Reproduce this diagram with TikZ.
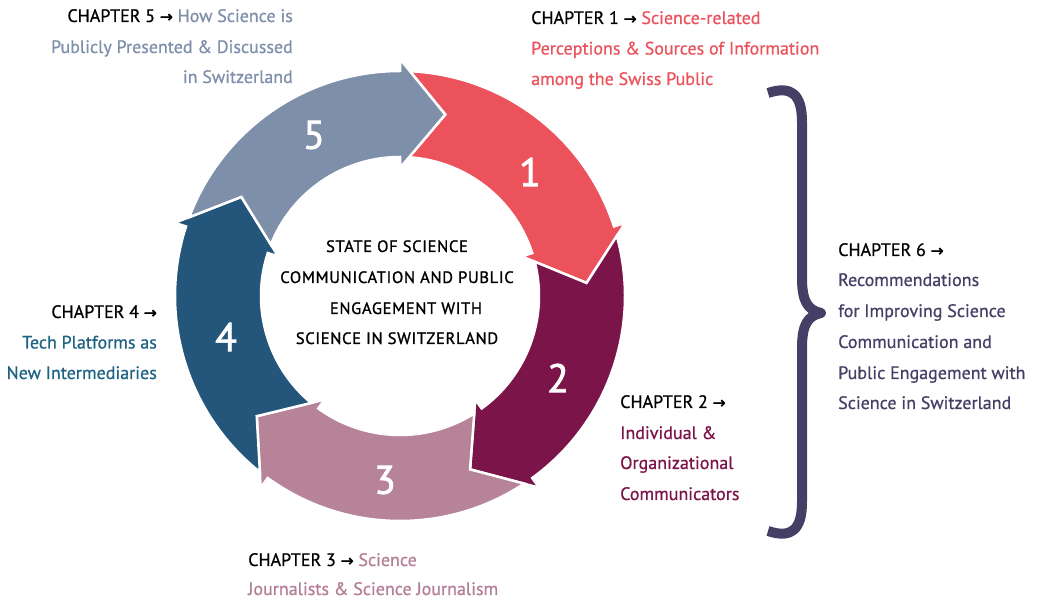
\documentclass[tikz,border=0pt]{standalone}
\usepackage{fontspec}
\setmainfont[FakeBold=0.7]{PT Sans}
\newfontfamily\arrfont[FakeBold=2.5]{DejaVu Sans}
\newfontfamily\ctrfont[LetterSpace=4,FakeBold=1.2]{PT Sans}
\newfontfamily\numfont[FakeBold=1.8]{PT Sans}
\usetikzlibrary{calc}
\definecolor{cOne}{HTML}{EB525C}
\definecolor{cTwo}{HTML}{7B1449}
\definecolor{cThree}{HTML}{B68398}
\definecolor{cFour}{HTML}{23567A}
\definecolor{cFive}{HTML}{7E8FAA}
\definecolor{tFour}{HTML}{1E6383}
\definecolor{tThree}{HTML}{B47E96}
\definecolor{cSix}{HTML}{453F66}
\newcommand\ringarrow[2]{%
  \pgfmathsetmacro\hb{#1}%
  \pgfmathsetmacro\htip{#1-14}%
  \pgfmathsetmacro\tlo{#1+72-2.5}%
  \pgfmathsetmacro\tli{#1+72-3.7}%
  \pgfmathsetmacro\tn{#1+72-14}%
  \fill[#2, draw=white, line width=2.5pt, line join=miter]
    (\tlo:225) arc[start angle=\tlo, end angle=\hb, radius=225pt]
    -- (\hb:237) -- (\htip:187) -- (\hb:128) -- (\hb:139)
    arc[start angle=\hb, end angle=\tli, radius=139pt]
    -- (\tn:187) -- cycle;
}
\newcommand\rarr{{\arrfont\fontsize{15.5}{15}\selectfont →}}
\tikzset{
  txt/.style={inner sep=0pt, font=\fontsize{18}{20}\selectfont},
  ctr/.style={inner sep=0pt, anchor=base, font=\ctrfont\fontsize{16.5}{20}\selectfont},
  num/.style={inner sep=0pt, text=white, font=\numfont\fontsize{40}{40}\selectfont},
  brace/.style={draw=cSix, line width=10pt, line cap=butt, line join=round}
}
\begin{document}
\begin{tikzpicture}[x=1pt, y=1pt]
\useasboundingbox (0,0) rectangle (1037,600);
\begin{scope}[shift={(400,304)}]
  \ringarrow{18}{cOne}
  \ringarrow{-54}{cTwo}
  \ringarrow{-126}{cThree}
  \ringarrow{162}{cFour}
  \ringarrow{90}{cFive}
\end{scope}
% numbers
\node[num] (n5) at (314,465) {5};
\node[num] (n1) at (530,428) {1};
\node[num] (n2) at (558,222) {2};
\node[num] (n3) at (385,120) {3};
\node[num] (n4) at (226,263) {4};
% centre
\node[ctr] (m1) at (397,348) {STATE OF SCIENCE};
\node[ctr] (m2) at (397,317) {COMMUNICATION AND PUBLIC};
\node[ctr] (m3) at (406,286) {ENGAGEMENT WITH};
\node[ctr] (m4) at (397,256) {SCIENCE IN SWITZERLAND};
% chapter 5
\node[txt, anchor=base east] (a1) at (293,578) {CHAPTER 5 \rarr\ \textcolor{cFive}{How Science is}};
\node[txt, anchor=base east, text=cFive] (a2) at (293,547) {Publicly Presented \& Discussed};
\node[txt, anchor=base east, text=cFive] (a3) at (293,517) {in Switzerland};
% chapter 1
\node[txt, anchor=base west] (b1) at (531,576) {CHAPTER 1 \rarr\ \textcolor{cOne}{Science-related}};
\node[txt, anchor=base west, text=cOne] (b2) at (531,545.5) {Perceptions \& Sources of Information};
\node[txt, anchor=base west, text=cOne] (b3) at (531,515) {among the Swiss Public};
% chapter 2
\node[txt, anchor=base west] (d1) at (620,192) {CHAPTER 2 \rarr};
\node[txt, anchor=base west, text=cTwo] (d2) at (620,161) {Individual \&};
\node[txt, anchor=base west, text=cTwo] (d3) at (620,131) {Organizational};
\node[txt, anchor=base west, text=cTwo] (d4) at (620,100) {Communicators};
% chapter 3
\node[txt, anchor=base west] (e1) at (248,34) {CHAPTER 3 \rarr\ \textcolor{tThree}{Science}};
\node[txt, anchor=base west, text=tThree] (e2) at (248,5) {Journalists \& Science Journalism};
% chapter 4
\node[txt, anchor=base east] (f1) at (157,282) {CHAPTER 4 \rarr};
\node[txt, anchor=base east, text=tFour] (f2) at (157,251.5) {Tech Platforms as};
\node[txt, anchor=base east, text=tFour] (f3) at (157,221) {New Intermediaries};
% chapter 6
\node[txt, anchor=base west] (g1) at (838,344) {CHAPTER 6 \rarr};
\node[txt, anchor=base west, text=cSix] (g2) at (838,314) {Recommendations};
\node[txt, anchor=base west, text=cSix] (g3) at (838,283) {for Improving Science};
\node[txt, anchor=base west, text=cSix] (g4) at (838,252) {Communication and};
\node[txt, anchor=base west, text=cSix] (g5) at (838,221) {Public Engagement with};
\node[txt, anchor=base west, text=cSix] (g6) at (838,191) {Science in Switzerland};
% brace
\coordinate (bt) at (768,507);
\coordinate (bm) at (821,287);
\coordinate (bb) at (768,69);
\draw[brace] (bt) .. controls (792,515) and (802,505) .. (802,478)
  -- (802,322) .. controls (802,298) and (808,290) .. (bm)
  .. controls (808,284) and (802,276) .. (802,252)
  -- (802,98) .. controls (802,71) and (792,61) .. (bb);
\end{tikzpicture}
\end{document}
